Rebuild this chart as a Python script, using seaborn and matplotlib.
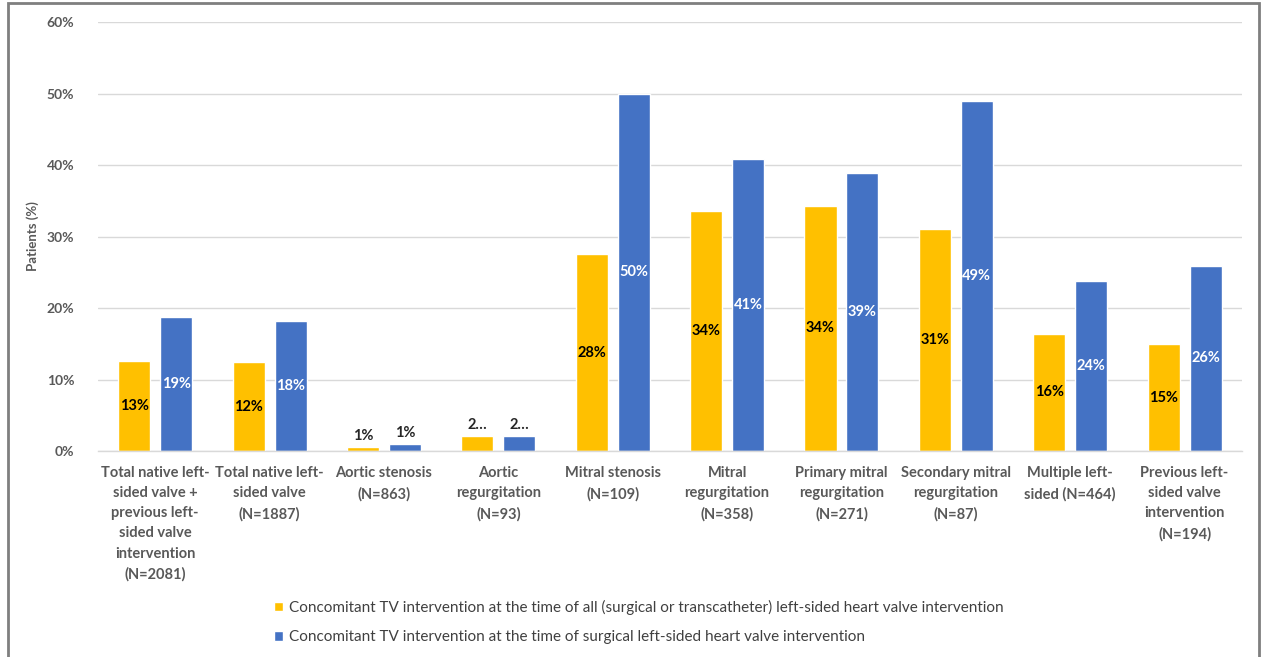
import matplotlib
matplotlib.use("Agg")
import matplotlib.pyplot as plt
import seaborn as sns
import pandas as pd
from matplotlib.patches import Rectangle

# Categories (x axis) and the two series, in percent of patients
categories = [
    "Total native left-\nsided valve +\nprevious left-\nsided valve\nintervention\n(N=2081)",
    "Total native left-\nsided valve\n(N=1887)",
    "Aortic stenosis\n(N=863)",
    "Aortic\nregurgitation\n(N=93)",
    "Mitral stenosis\n(N=109)",
    "Mitral\nregurgitation\n(N=358)",
    "Primary mitral\nregurgitation\n(N=271)",
    "Secondary mitral\nregurgitation\n(N=87)",
    "Multiple left-\nsided (N=464)",
    "Previous left-\nsided valve\nintervention\n(N=194)",
]
series_names = [
    "Concomitant TV intervention at the time of all (surgical or transcatheter) left-sided heart valve intervention",
    "Concomitant TV intervention at the time of surgical left-sided heart valve intervention",
]
all_values = [12.6, 12.4, 0.5, 2.1, 27.5, 33.5, 34.3, 31.0, 16.4, 14.9]
surgical_values = [18.8, 18.2, 1.0, 2.1, 50.0, 40.8, 38.9, 49.0, 23.8, 25.9]
all_labels = ["13%", "12%", "1%", "2…", "28%", "34%", "34%", "31%", "16%", "15%"]
surgical_labels = ["19%", "18%", "1%", "2…", "50%", "41%", "39%", "49%", "24%", "26%"]
y_ticks = [0, 10, 20, 30, 40, 50, 60]

colors = ["#FFC000", "#4472C4"]
text_gray = "#595959"

df = pd.DataFrame({
    "category": categories * 2,
    "series": [series_names[0]] * len(categories) + [series_names[1]] * len(categories),
    "value": all_values + surgical_values,
})

sns.set_theme(style="white")
plt.rcParams["font.family"] = ["Lato", "DejaVu Sans"]

fig = plt.figure(figsize=(12.62, 6.57), dpi=100)
ax = fig.add_axes([0.0777, 0.3135, 0.9063, 0.653])

sns.barplot(data=df, x="category", y="value", hue="series", palette=colors,
            saturation=1, width=0.734, gap=0.237, ax=ax, legend=True)

# Data labels: centered inside larger bars, above tiny bars
small = 3
for container, labels, col in zip(ax.containers, [all_labels, surgical_labels], ["black", "white"]):
    heights = [b.get_height() for b in container]
    inner = [l if h >= small else "" for l, h in zip(labels, heights)]
    outer = [l if h < small else "" for l, h in zip(labels, heights)]
    ax.bar_label(container, labels=inner, label_type="center", color=col,
                 fontsize=10.5, fontweight="bold")
    ax.bar_label(container, labels=outer, label_type="edge", padding=3,
                 color="#262626", fontsize=10.5, fontweight="bold")

ax.set_ylim(0, 60)
ax.set_yticks(y_ticks)
ax.set_yticklabels([f"{t}%" for t in y_ticks], color=text_gray, fontsize=10, fontweight="bold")
ax.set_xlim(-0.5, len(categories) - 0.5)
ax.tick_params(axis="y", length=0, pad=17)
ax.tick_params(axis="x", length=0, pad=11)
for lbl in ax.get_xticklabels():
    lbl.set_color(text_gray)
    lbl.set_fontsize(10.5)
    lbl.set_fontweight("bold")
    lbl.set_linespacing(1.55)

ax.set_xlabel("")
ax.set_ylabel("Patients (%)", color=text_gray, fontsize=9.5, fontweight="bold")
ax.yaxis.set_label_coords(-0.052, 0.5)

ax.grid(axis="y", color="#d9d9d9", linewidth=1)
ax.set_axisbelow(True)
for side in ["top", "right", "left"]:
    ax.spines[side].set_visible(False)
ax.spines["bottom"].set_color("#d9d9d9")
ax.spines["bottom"].set_linewidth(1)

ax.legend(loc="upper left", bbox_to_anchor=(268 / 1262, 1 - 594 / 657),
          bbox_transform=fig.transFigure, frameon=False, fontsize=11,
          labelcolor="#404040", handlelength=0.55, handleheight=0.55,
          handletextpad=0.4, labelspacing=1.0, borderaxespad=0)

# Outer frame around the chart
fig.patches.append(Rectangle((8 / 1262, -0.05), (1259 - 8) / 1262, 1.05 - 3 / 657,
                             transform=fig.transFigure, fill=False,
                             edgecolor="#7f7f7f", linewidth=2))

fig.savefig("out.png", dpi=100)
